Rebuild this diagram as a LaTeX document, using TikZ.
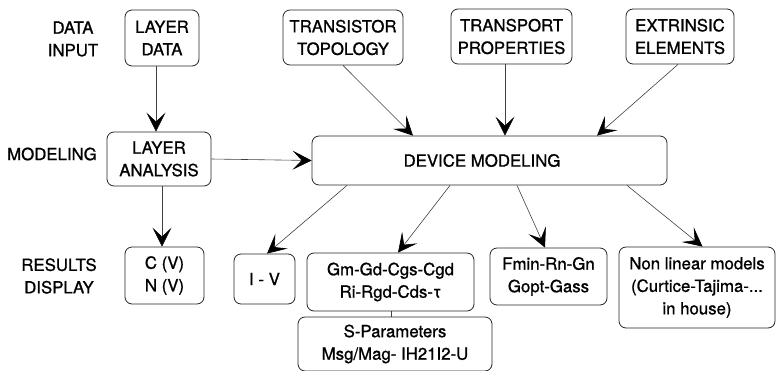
\documentclass[tikz,border=0pt]{standalone}
\usepackage{fontspec}
\setmainfont{TeX Gyre Heros}[UprightFeatures={FakeBold=1}]
\usetikzlibrary{arrows.meta}

\begin{document}
\begin{tikzpicture}[x=1pt,y=-1pt,
  box/.style={draw=black!85,line width=0.8pt,rounded corners=7pt,align=center,inner sep=0pt},
  conn/.style={draw=black!75,line width=0.6pt,-{Stealth[length=19pt,width=19pt,inset=9pt,color=black]}}]
\tikzstyle{every node}+=[font=\fontsize{16.8}{22.5}\selectfont]
\useasboundingbox (0,0) rectangle (776,370);
% row labels
\node (lblinput) at (73,39) [align=center] {DATA\\INPUT};
\node (lblmodel) at (52,154) {MODELING};
\node (lblresult) at (59,276) [align=center] {RESULTS\\DISPLAY};
% data input
\node (layerdata) at (162,38) [box,minimum width=74,minimum height=56] {LAYER\\DATA};
\node (topo) at (343,37.5) [box,minimum width=120,minimum height=55] {TRANSISTOR\\TOPOLOGY};
\node (transport) at (511.5,36.5) [box,minimum width=121,minimum height=55] {TRANSPORT\\PROPERTIES};
\node (extrinsic) at (680,36.5) [box,minimum width=108,minimum height=55] {EXTRINSIC\\ELEMENTS};
% modeling
\node (analysis) at (159,159) [box,minimum width=104,minimum height=54] {LAYER\\ANALYSIS};
\node (device) at (489.5,160.5) [box,minimum width=355,minimum height=49] {DEVICE MODELING\hspace{15pt}};
% results
\node (cv) at (164.5,275.5) [box,minimum width=79,minimum height=57] {C (V)\\N (V)};
\node (iv) at (264.5,279) [box,minimum width=61,minimum height=50] {I - V};
\node (gm) at (390.5,282) [box,minimum width=167,minimum height=58] {Gm-Gd-Cgs-Cgd\\Ri-Rgd-Cds-τ};
\node (spar) at (395,344) [box,minimum width=194,minimum height=54] {S-Parameters\\Msg/Mag- IH21I2-U};
\node (fmin) at (548.5,276.5) [box,minimum width=117,minimum height=57] {Fmin-Rn-Gn\\Gopt-Gass};
\node (nonlin) at (697,287.5) [box,minimum width=156,minimum height=81] {Non linear models\\(Curtice-Tajima-...\\in house)};
% connectors
\draw [conn] ([xshift=-6]layerdata.south) -- ([xshift=-3]analysis.north);
\draw [conn] ([xshift=3]analysis.south) -- ([xshift=-2.5]cv.north);
\draw [conn] (analysis.east) -- (device.west);
\draw [conn] (topo.south) -- ([xshift=-76.5]device.north);
\draw [conn] ([xshift=-6.5]transport.south) -- ([xshift=15.5]device.north);
\draw [conn] ([xshift=-2]extrinsic.south) -- ([xshift=107.5]device.north);
\draw [conn] ([xshift=-142.5]device.south) -- ([xshift=2.5]iv.north);
\draw [conn] ([xshift=-39.5]device.south) -- ([xshift=7.5]gm.north);
\draw [conn] ([xshift=27.5]device.south) -- ([xshift=-3.5]fmin.north);
\draw [conn] ([xshift=137.5]device.south) -- ([xshift=5.5]nonlin.north);
\draw [draw=black!75,line width=0.6pt] ([xshift=0.5]gm.south) -- ([xshift=0.5]gm.south |- spar.north);
\end{tikzpicture}
\end{document}
